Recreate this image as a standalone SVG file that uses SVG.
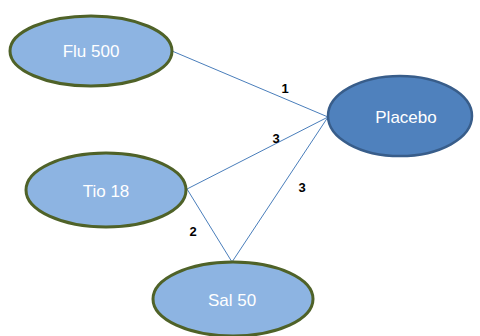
<svg xmlns="http://www.w3.org/2000/svg" width="480" height="336" viewBox="0 0 480 336">
<style>
.n{fill:#8db4e2;stroke:#4f6228;stroke-width:3}
.p{fill:#4f81bd;stroke:#385d8a;stroke-width:2.5}
.t{fill:#fff;font-family:"Liberation Sans",Arial,sans-serif;font-size:17px;text-anchor:middle;dominant-baseline:central}
.e{stroke:#4a7ebb;stroke-width:1;fill:none}
.l{fill:#000;font-family:"Liberation Sans",Arial,sans-serif;font-size:13px;font-weight:bold;text-anchor:middle;dominant-baseline:central}
</style>
<rect width="480" height="336" fill="#fff"/>
<g id="edges">
<line class="e" x1="172" y1="51" x2="328" y2="117"/>
<line class="e" x1="187" y1="189" x2="328" y2="117"/>
<line class="e" x1="187" y1="189" x2="232" y2="262"/>
<line class="e" x1="232" y1="262" x2="328" y2="117"/>
<text class="l" x="285" y="88">1</text>
<text class="l" x="276" y="138">3</text>
<text class="l" x="302" y="187">3</text>
<text class="l" x="193" y="231">2</text>
</g>
<g id="flu500"><ellipse class="n" cx="91" cy="51" rx="81" ry="35"/><text class="t" x="91" y="51">Flu 500</text></g>
<g id="placebo"><ellipse class="p" cx="400" cy="116" rx="72" ry="40"/><text class="t" x="406" y="117">Placebo</text></g>
<g id="tio18"><ellipse class="n" cx="106" cy="190" rx="80" ry="37"/><text class="t" x="106" y="191">Tio 18</text></g>
<g id="sal50"><ellipse class="n" cx="233" cy="299" rx="80" ry="37"/><text class="t" x="232" y="300">Sal 50</text></g>
</svg>
